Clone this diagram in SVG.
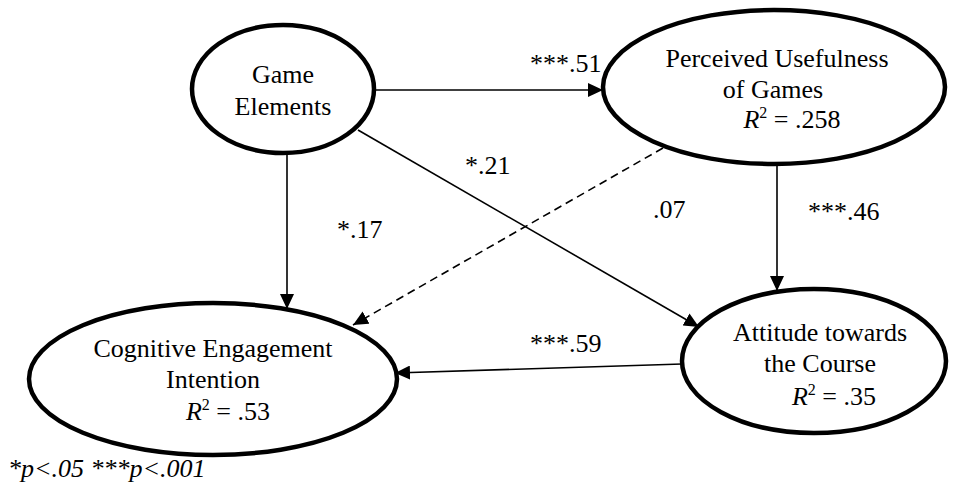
<svg xmlns="http://www.w3.org/2000/svg" width="953" height="496" viewBox="0 0 953 496" font-family="'Liberation Serif', 'Times New Roman', Tinos, 'DejaVu Serif', serif">
<defs>
<style>
.node{fill:#fff;stroke:#000;stroke-width:4.5}
.t{font-family:'Liberation Serif','Times New Roman',Tinos,serif;font-size:26px;fill:#000;text-anchor:middle}
.lbl{font-family:'Liberation Serif','Times New Roman',Tinos,serif;font-size:26px;fill:#000}
.edge{stroke:#000;stroke-width:1.6;fill:none;marker-end:url(#arr)}
.dash{stroke-dasharray:8,5}
.i{font-style:italic}
.sup{font-size:16px}
</style>
<marker id="arr" markerUnits="userSpaceOnUse" markerWidth="16" markerHeight="14" refX="15" refY="7" orient="auto">
<path d="M0,0 L15,7 L0,14 z" fill="#000"/>
</marker>
</defs>
<rect width="953" height="496" fill="#fff"/>
<g id="connectors">
<line class="edge" x1="374" y1="90" x2="603" y2="90"/>
<line class="edge" x1="287" y1="153" x2="287" y2="309"/>
<line class="edge" x1="777" y1="164" x2="777" y2="291"/>
<line class="edge" x1="358" y1="130" x2="699" y2="327"/>
<line class="edge dash" x1="663" y1="148" x2="353" y2="325"/>
<line class="edge" x1="682" y1="364" x2="395" y2="373"/>
<text class="lbl" x="530" y="72">***.51</text>
<text class="lbl" x="465" y="174">*.21</text>
<text class="lbl" x="337" y="238">*.17</text>
<text class="lbl" x="653" y="218">.07</text>
<text class="lbl" x="808" y="220">***.46</text>
<text class="lbl" x="530" y="352">***.59</text>
</g>
<g id="game-elements">
<ellipse class="node" cx="283" cy="89" rx="91" ry="64"/>
<text class="t" x="283" y="83">Game</text>
<text class="t" x="283" y="115">Elements</text>
</g>
<g id="perceived-usefulness">
<ellipse class="node" cx="774" cy="87" rx="171" ry="77"/>
<text class="t" x="777" y="67">Perceived Usefulness</text>
<text class="t" x="773" y="98">of Games</text>
<text class="t" x="792" y="128"><tspan class="i">R</tspan><tspan class="sup" dy="-10">2</tspan><tspan dy="10"> = .258</tspan></text>
</g>
<g id="attitude">
<ellipse class="node" cx="814" cy="361" rx="132" ry="72"/>
<text class="t" x="820" y="341">Attitude towards</text>
<text class="t" x="820" y="372">the Course</text>
<text class="t" x="834" y="405"><tspan class="i">R</tspan><tspan class="sup" dy="-10">2</tspan><tspan dy="10"> = .35</tspan></text>
</g>
<g id="cognitive-engagement">
<ellipse class="node" cx="213" cy="379" rx="184" ry="76"/>
<text class="t" x="213" y="357">Cognitive Engagement</text>
<text class="t" x="213" y="388">Intention</text>
<text class="t" x="228" y="420"><tspan class="i">R</tspan><tspan class="sup" dy="-10">2</tspan><tspan dy="10"> = .53</tspan></text>
</g>
<text class="lbl i" x="8" y="477">*p&lt;.05 ***p&lt;.001</text>
</svg>
